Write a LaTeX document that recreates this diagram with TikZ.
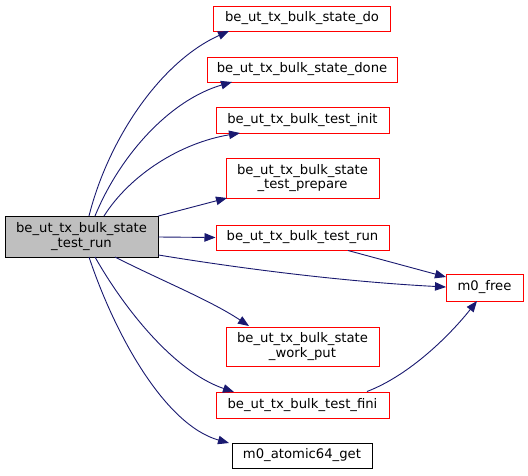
\documentclass[tikz,border=0pt]{standalone}
\usepackage{fontspec}
\setmainfont{DejaVu Sans}
\usetikzlibrary{arrows.meta}
\definecolor{edgeblue}{HTML}{191970}
\definecolor{mainfill}{HTML}{BFBFBF}
\begin{document}
\begin{tikzpicture}[x=1pt,y=-1pt,
  box/.style={draw=red,fill=white,line width=1pt,inner sep=0pt,align=center,
    font=\fontsize{13.2}{14.8}\selectfont},
  blackbox/.style={box,draw=black},
  mainbox/.style={box,draw=black,fill=mainfill},
  edge/.style={draw=edgeblue,line width=0.9pt,-{Triangle[length=11pt,width=8.5pt]}}]
\fill[white] (0,0) rectangle (528,475);
\useasboundingbox (0,0) rectangle (528,475);

\node[mainbox,minimum width=153,minimum height=41] (main) at (81.5,236.5) {be\_ut\_tx\_bulk\_state\\\_test\_run};
\node[box,minimum width=177,minimum height=25] (do) at (302,18.5) {be\_ut\_tx\_bulk\_state\_do};
\node[box,minimum width=190,minimum height=25] (done) at (302,69.5) {be\_ut\_tx\_bulk\_state\_done};
\node[box,minimum width=173,minimum height=26] (init) at (302.5,120) {be\_ut\_tx\_bulk\_test\_init};
\node[box,minimum width=153,minimum height=40] (prep) at (302.5,178) {be\_ut\_tx\_bulk\_state\\\_test\_prepare};
\node[box,minimum width=173,minimum height=25] (run) at (302.5,237.5) {be\_ut\_tx\_bulk\_test\_run};
\node[box,minimum width=77,minimum height=27] (free) at (484.5,287.5) {m0\_free};
\node[box,minimum width=153,minimum height=39] (work) at (302.5,346.5) {be\_ut\_tx\_bulk\_state\\\_work\_put};
\node[box,minimum width=173,minimum height=26] (fini) at (302.5,405) {be\_ut\_tx\_bulk\_test\_fini};
\node[blackbox,minimum width=140,minimum height=25] (atom) at (302,455.5) {m0\_atomic64\_get};

\coordinate (m1) at (89,216);
\coordinate (m2) at (95,216);
\coordinate (m3) at (104,216);
\draw[edge] (m1) .. controls (108,140) and (160,62) .. (229,31);
\draw[edge] (m2) .. controls (120,155) and (170,100) .. (232,82);
\draw[edge] (m3) .. controls (130,175) and (180,143) .. (240,133);
\draw[edge] (main.east |- 0,216) -- (227,198);
\draw[edge] (main.east |- 0,237) -- (run.west);
\draw[edge] (main.east |- 0,255) .. controls (250,270) and (350,282) .. (446,287);
\draw[edge] (run.south -| 348,0) -- (446,277);
\draw[edge] (fini.north -| 367,0) .. controls (410,375) and (450,335) .. (477,301);
\coordinate (b1) at (115,257);
\coordinate (b2) at (95,257);
\coordinate (b3) at (89,257);
\draw[edge] (b1) .. controls (160,280) and (210,300) .. (249,326);
\draw[edge] (b2) .. controls (125,310) and (175,372) .. (234,392);
\draw[edge] (b3) .. controls (115,335) and (165,425) .. (229,443);
\end{tikzpicture}
\end{document}
